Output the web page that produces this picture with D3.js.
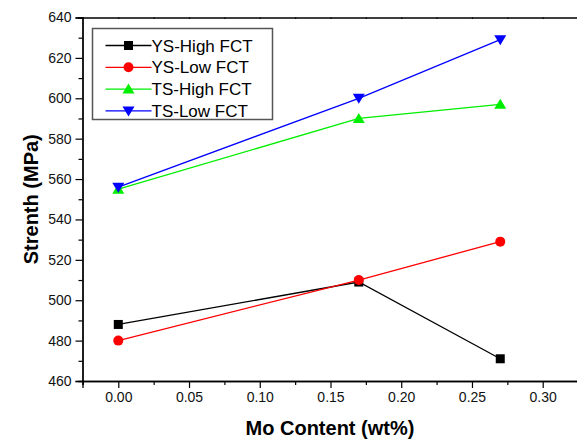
<!DOCTYPE html>
<html>
<head>
<meta charset="utf-8">
<script src="https://cdn.jsdelivr.net/npm/d3@7"></script>
<style>
  body { margin: 0; background: #fff; }
  text { font-family: Arial, "Liberation Sans", sans-serif; }
</style>
</head>
<body>
<div id="chart-area"></div>
<script>
const moContent = [0, 0.17, 0.27]
const ysHigh = [488, 509, 471]
const ysLow = [480, 510, 529]
const tsHigh = [555, 590, 597]
const tsLow = [556, 600, 629]
const seriesNames = ["YS-High FCT", "YS-Low FCT", "TS-High FCT", "TS-Low FCT"]
const xTicks = [0, 0.05, 0.1, 0.15, 0.2, 0.25, 0.3]
const yTicks = [460, 480, 500, 520, 540, 560, 580, 600, 620, 640]

const W = 577, H = 441
const LEFT = 82.5, TOP = 17.5, BOTTOM = 381, RIGHT = 600

const svg = d3.select("#chart-area").append("svg")
  .attr("width", W)
  .attr("height", H)

const x = d3.scaleLinear().domain([-0.0253, 0.3405]).range([LEFT, RIGHT])
const y = d3.scaleLinear().domain([460, 640]).range([BOTTOM, TOP])

const series = [
  { name: seriesNames[0], values: ysHigh, color: "#000000", shape: "square" },
  { name: seriesNames[1], values: ysLow, color: "#ff0000", shape: "circle" },
  { name: seriesNames[2], values: tsHigh, color: "#00ee00", shape: "up" },
  { name: seriesNames[3], values: tsLow, color: "#0000ff", shape: "down" }
]

// minor ticks
const xMinor = d3.range(-0.025, 0.34, 0.025).map(v => +v.toFixed(3)).filter(v => !xTicks.includes(v))
const yMinor = d3.range(470, 640, 20)

// axes
const xAxis = svg.append("g")
  .attr("transform", `translate(0, ${BOTTOM})`)
  .call(d3.axisBottom(x).tickValues(xTicks).tickSize(7).tickPadding(4).tickFormat(d3.format(".2f")))
svg.append("g")
  .attr("transform", `translate(0, ${BOTTOM})`)
  .call(d3.axisBottom(x).tickValues(xMinor).tickSize(4).tickFormat(""))

const yAxis = svg.append("g")
  .attr("transform", `translate(${LEFT}, 0)`)
  .call(d3.axisLeft(y).tickValues(yTicks).tickSize(7).tickPadding(4))
svg.append("g")
  .attr("transform", `translate(${LEFT}, 0)`)
  .call(d3.axisLeft(y).tickValues(yMinor).tickSize(4).tickFormat(""))

// top frame
svg.append("g")
  .attr("transform", `translate(0, ${TOP})`)
  .call(d3.axisTop(x).tickValues(xTicks.concat(xMinor)).tickSize(-1.5).tickFormat(""))

svg.selectAll(".domain").attr("stroke", "#000").attr("stroke-width", 1.3)
svg.selectAll(".tick line").attr("stroke", "#000").attr("stroke-width", 1.2)
svg.selectAll(".tick text")
  .attr("font-size", "14px")
  .attr("fill", "#111")
  .attr("font-family", "Arial, 'Liberation Sans', sans-serif")

// axis titles
svg.append("text")
  .attr("x", 330)
  .attr("y", 435)
  .attr("text-anchor", "middle")
  .attr("font-size", "20px")
  .attr("font-weight", "bold")
  .text("Mo Content (wt%)")

svg.append("text")
  .attr("transform", `translate(38, ${(TOP + BOTTOM) / 2}) rotate(-90)`)
  .attr("text-anchor", "middle")
  .attr("font-size", "20px")
  .attr("font-weight", "bold")
  .text("Strenth (MPa)")

function drawMarker(sel, shape, color) {
  if (shape === "square") {
    sel.append("rect").attr("x", -4.5).attr("y", -4.5).attr("width", 9).attr("height", 9).attr("fill", color)
  } else if (shape === "circle") {
    sel.append("circle").attr("r", 5).attr("fill", color)
  } else if (shape === "up") {
    sel.append("path").attr("d", "M0,-5.5L6,4.5L-6,4.5Z").attr("fill", color)
  } else {
    sel.append("path").attr("d", "M0,5.5L6,-4.5L-6,-4.5Z").attr("fill", color)
  }
}

const line = d3.line().x((d, i) => x(moContent[i])).y(d => y(d))

series.forEach(s => {
  svg.append("path")
    .datum(s.values)
    .attr("fill", "none")
    .attr("stroke", s.color)
    .attr("stroke-width", 1.3)
    .attr("d", line)
  s.values.forEach((v, i) => {
    const m = svg.append("g").attr("transform", `translate(${x(moContent[i])}, ${y(v)})`)
    drawMarker(m, s.shape, s.color)
  })
})

// legend
const legend = svg.append("g").attr("transform", "translate(92.5, 28.5)")
legend.append("rect")
  .attr("width", 180)
  .attr("height", 91)
  .attr("fill", "#fff")
  .attr("stroke", "#555")
  .attr("stroke-width", 1.5)

series.forEach((s, i) => {
  const row = legend.append("g").attr("transform", `translate(0, ${17 + i * 21.8})`)
  row.append("line").attr("x1", 13).attr("x2", 59).attr("stroke", s.color).attr("stroke-width", 1.3)
  drawMarker(row.append("g").attr("transform", "translate(36, 0)"), s.shape, s.color)
  row.append("text")
    .attr("x", 59)
    .attr("y", 6)
    .attr("font-size", "17px")
    .text(s.name)
})
</script>
</body>
</html>
